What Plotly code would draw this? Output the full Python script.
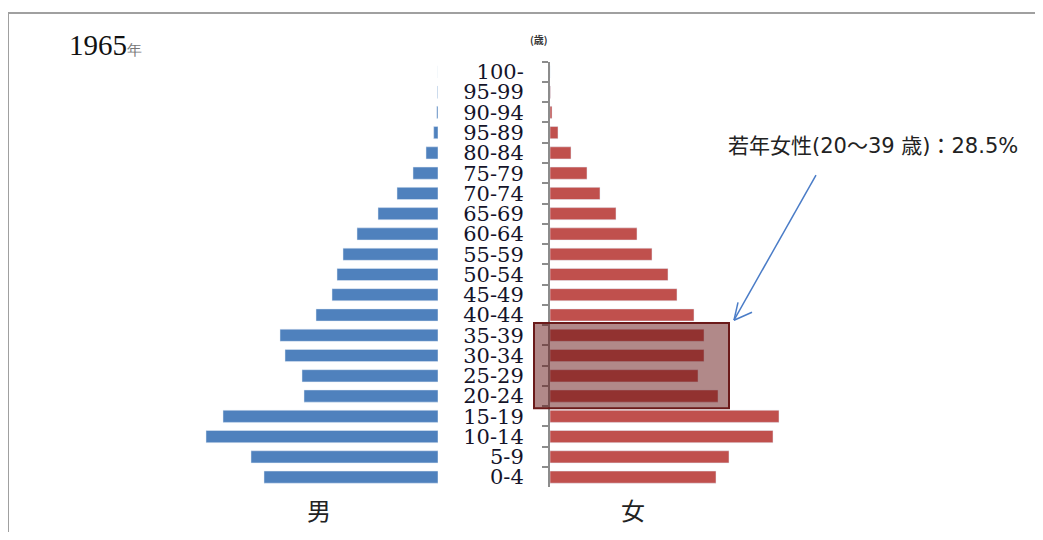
import plotly.graph_objects as go

# Age groups, bottom to top (labels as printed, including the original "95-89")
age_groups = ["0-4", "5-9", "10-14", "15-19", "20-24", "25-29", "30-34", "35-39",
              "40-44", "45-49", "50-54", "55-59", "60-64", "65-69", "70-74",
              "75-79", "80-84", "95-89", "90-94", "95-99", "100-"]

# Population (relative units)
male = [174, 187, 232, 215, 134, 136, 153, 158, 122, 106, 101, 95, 81, 60, 41,
        25, 12, 4.3, 1.2, 0.5, 0]
female = [166, 179, 223, 229, 168, 148, 154, 154, 144, 127, 118, 102, 87, 66, 50,
          37, 21, 8, 2, 0.5, 0]

title_year = "1965"
annotation_text = "若年女性(20～39 歳)：28.5%"

# page body has an 8px margin: shrink the figure and shift coordinates
OFF = 8
W, H = 1043 - 2 * OFF, 540 - 2 * OFF
def px(x):
    return (x - OFF) / W
def py(y):
    return 1 - (y - OFF) / H

BLUE = "#4F81BD"
RED = "#C0504D"

fig = go.Figure()
fig.add_trace(go.Bar(y=age_groups, x=male, orientation="h", marker_color=BLUE,
                     xaxis="x", yaxis="y", showlegend=False, hoverinfo="skip"))
fig.add_trace(go.Bar(y=age_groups, x=female, orientation="h", marker_color=RED,
                     xaxis="x2", yaxis="y", showlegend=False, hoverinfo="skip"))

fig.update_layout(
    width=W, height=H,
    margin=dict(l=0, r=0, t=0, b=0),
    paper_bgcolor="white", plot_bgcolor="rgba(0,0,0,0)",
    bargap=0.4,
    xaxis=dict(domain=[px(138), px(438)], range=[300, 0], visible=False, anchor="y"),
    xaxis2=dict(domain=[px(550), px(850)], range=[0, 300], visible=False, anchor="y"),
    yaxis=dict(domain=[py(489), py(61)], anchor="x2", side="left",
               type="category", categoryorder="array", categoryarray=age_groups,
               tickmode="array", tickvals=age_groups, ticktext=age_groups,
               showline=True, linecolor="#8c8c8c", linewidth=2,
               ticks="outside", ticklen=6, tickwidth=2, tickcolor="#8c8c8c",
               tickson="boundaries", showgrid=False, zeroline=False,
               ticklabelstandoff=20,
               tickfont=dict(family="DejaVu Serif", size=21, color="#14142a")),
)

shapes = []
# outer frame (top and left edges visible)
shapes.append(dict(type="rect", xref="paper", yref="paper",
                   x0=px(8), x1=px(1080), y0=py(580), y1=py(12),
                   line=dict(color="#a0a0a0", width=2), fillcolor="rgba(0,0,0,0)", layer="below"))
# highlight box for 20-39 females
shapes.append(dict(type="rect", xref="paper", yref="y",
                   x0=px(534), x1=px(729), y0=3.4, y1=7.6,
                   line=dict(color="#6b1a1a", width=2),
                   fillcolor="rgba(100,20,20,0.5)", layer="above"))
# arrow
arrow_col = "#4a7cc7"
shapes.append(dict(type="line", xref="paper", yref="paper",
                   x0=px(816), y0=py(175), x1=px(734), y1=py(321),
                   line=dict(color=arrow_col, width=1.5)))
shapes.append(dict(type="line", xref="paper", yref="paper",
                   x0=px(734), y0=py(321), x1=px(752), y1=py(313),
                   line=dict(color=arrow_col, width=1.5)))
shapes.append(dict(type="line", xref="paper", yref="paper",
                   x0=px(734), y0=py(321), x1=px(738), y1=py(303),
                   line=dict(color=arrow_col, width=1.5)))
fig.update_layout(shapes=shapes)

annotations = [
    dict(text=title_year + "<span style='font-size:15px;color:#777777'>年</span>",
         xref="paper", yref="paper", x=px(67), y=py(44), xanchor="left", yanchor="middle",
         showarrow=False, font=dict(family="Liberation Serif", size=29, color="#111111")),
    dict(text="<b>(歳)</b>", xref="paper", yref="paper", x=px(539), y=py(39),
         xanchor="center", yanchor="middle", showarrow=False,
         font=dict(family="Noto Sans CJK JP", size=10, color="#333333")),
    dict(text="男", xref="paper", yref="paper", x=px(319), y=py(511),
         xanchor="center", yanchor="middle", showarrow=False,
         font=dict(family="Noto Sans CJK JP", size=24, color="#222222")),
    dict(text="女", xref="paper", yref="paper", x=px(633), y=py(511),
         xanchor="center", yanchor="middle", showarrow=False,
         font=dict(family="Noto Sans CJK JP", size=24, color="#222222")),
    dict(text=annotation_text, xref="paper", yref="paper", x=px(726), y=py(146),
         xanchor="left", yanchor="middle", showarrow=False,
         font=dict(family="DejaVu Sans, Noto Sans CJK JP", size=21, color="#222222")),
]
fig.update_layout(annotations=annotations)

fig.write_html("out.html")
